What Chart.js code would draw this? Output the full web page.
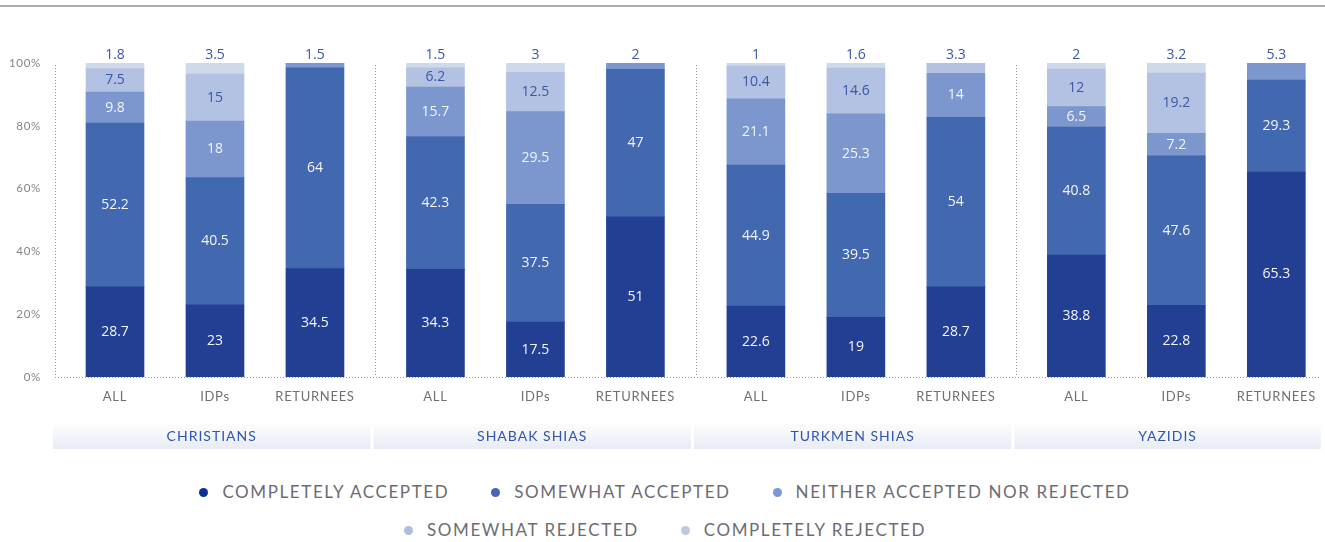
<!DOCTYPE html>
<html>
<head>
<meta charset="utf-8">
<script src="https://cdn.jsdelivr.net/npm/chart.js@4.4.1/dist/chart.umd.min.js"></script>
<style>
  html, body { margin: 0; padding: 0; background: #fff; }
  body { width: 1325px; height: 542px; position: relative; overflow: hidden; font-family: Lato, "Open Sans", sans-serif; }
  #topline { position: absolute; left: 0; top: 5px; width: 1325px; height: 2px; background: #ababb0; }
  #wrap { position: absolute; left: 0; top: 0; width: 1325px; height: 460px; }
  .legend-row { position: absolute; left: 0; width: 1330px; display: flex; justify-content: center; height: 22px; line-height: 22px; }
  .legend-item { display: flex; align-items: center; margin: 0 21px; font-size: 17px; color: #6c6c72; letter-spacing: 1.6px; }
  .legend-dot { width: 9px; height: 9px; border-radius: 50%; margin-right: 14px; }
</style>
</head>
<body>
<div id="topline"></div>
<div id="wrap"><canvas id="chart"></canvas></div>
<div class="legend-row" id="legend1" style="top:481px"></div>
<div class="legend-row" id="legend2" style="top:519px"></div>
<script>
// data
const groups = ['CHRISTIANS', 'SHABAK SHIAS', 'TURKMEN SHIAS', 'YAZIDIS'];
const subgroups = ['ALL', 'IDPs', 'RETURNEES'];
const seriesNames = ['COMPLETELY ACCEPTED', 'SOMEWHAT ACCEPTED', 'NEITHER ACCEPTED NOR REJECTED', 'SOMEWHAT REJECTED', 'COMPLETELY REJECTED'];
const completelyAccepted = [28.7, 23, 34.5, 34.3, 17.5, 51, 22.6, 19, 28.7, 38.8, 22.8, 65.3];
const somewhatAccepted = [52.2, 40.5, 64, 42.3, 37.5, 47, 44.9, 39.5, 54, 40.8, 47.6, 29.3];
const neither = [9.8, 18, 1.5, 15.7, 29.5, 2, 21.1, 25.3, 14, 6.5, 7.2, 5.3];
const somewhatRejected = [7.5, 15, 0, 6.2, 12.5, 0, 10.4, 14.6, 3.3, 12, 19.2, 0];
const completelyRejected = [1.8, 3.5, 0, 1.5, 3, 0, 1, 1.6, 0, 2, 3.2, 0];
const yTicks = [0, 20, 40, 60, 80, 100];

const seriesValues = [completelyAccepted, somewhatAccepted, neither, somewhatRejected, completelyRejected];
const seriesColors = ['#223f94', '#4268b0', '#7b97cd', '#b3c2e2', '#cfd9ea'];
const dotColors = ['#0d2f98', '#4466b5', '#7a98d3', '#abbee0', '#bccadf'];
const labelColors = ['#f4f4f8', '#f4f4f8', '#f4f4f8', '#3a56a8', '#3a56a8'];

// bar positions on a linear x scale: 3 bars per group, a little gap between groups
const groupWidth = 3.205;
const barOffset = 0.6;
const xPos = [];
groups.forEach((g, gi) => subgroups.forEach((s, si) => xPos.push(gi * groupWidth + barOffset + si)));

// legend (html)
function legendItem(k) {
    return '<div class="legend-item"><span class="legend-dot" style="background:' + dotColors[k] + '"></span>' + seriesNames[k] + '</div>';
}
document.getElementById('legend1').innerHTML = [0, 1, 2].map(legendItem).join('');
document.getElementById('legend2').innerHTML = [3, 4].map(legendItem).join('');

const frame = {
    id: 'frame',
    beforeDraw(chart) {
        chart.ctx.letterSpacing = '0.7px';
    },
    beforeDatasetsDraw(chart) {
        const ctx = chart.ctx;
        const area = chart.chartArea;
        const xs = chart.scales.x;
        ctx.save();
        ctx.strokeStyle = '#9a9a9a';
        ctx.lineWidth = 1;
        ctx.setLineDash([1, 2]);
        ctx.beginPath();
        ctx.moveTo(area.left, area.bottom + 0.5);
        ctx.lineTo(area.right, area.bottom + 0.5);
        for (let g = 0; g < groups.length; g++) {
            const px = Math.round(xs.getPixelForValue(g * groupWidth)) + 0.5;
            ctx.moveTo(px, area.top + 2);
            ctx.lineTo(px, area.bottom);
        }
        ctx.stroke();
        ctx.restore();
    },
    afterDraw(chart) {
        const ctx = chart.ctx;
        const area = chart.chartArea;
        const xs = chart.scales.x;
        const top = 424, bottom = 449;
        ctx.save();
        groups.forEach((name, g) => {
            const x0 = xs.getPixelForValue(g * groupWidth) - 2;
            const x1 = g < groups.length - 1 ? xs.getPixelForValue((g + 1) * groupWidth) - 5 : area.right + 1;
            const grad = ctx.createLinearGradient(0, top, 0, bottom);
            grad.addColorStop(0, '#fdfdfe');
            grad.addColorStop(1, '#e8ebf5');
            ctx.fillStyle = grad;
            ctx.fillRect(x0, top, x1 - x0, bottom - top);
            ctx.fillStyle = '#2f55ae';
            ctx.font = '14px Lato';
            ctx.letterSpacing = '1px';
            ctx.textAlign = 'center';
            ctx.textBaseline = 'middle';
            ctx.fillText(name, (x0 + x1) / 2, (top + bottom) / 2);
        });
        ctx.restore();
    }
};

const valueLabels = {
    id: 'valueLabels',
    afterDatasetsDraw(chart) {
        const ctx = chart.ctx;
        ctx.save();
        ctx.font = '14px "Open Sans"';
        ctx.letterSpacing = '0px';
        ctx.textAlign = 'center';
        ctx.textBaseline = 'middle';
        xPos.forEach((x, i) => {
            let topK = -1;
            seriesValues.forEach((vals, k) => { if (vals[i] > 0) topK = k; });
            seriesValues.forEach((vals, k) => {
                const v = vals[i];
                if (!v) return;
                const bar = chart.getDatasetMeta(k).data[i];
                if (k === topK) {
                    ctx.fillStyle = '#3a56a8';
                    ctx.fillText(String(v), bar.x, chart.chartArea.top - 8);
                } else {
                    ctx.fillStyle = labelColors[k];
                    ctx.fillText(String(v), bar.x, (bar.y + bar.base) / 2);
                }
            });
        });
        ctx.restore();
    }
};

new Chart(document.getElementById('chart'), {
    type: 'bar',
    data: {
        datasets: seriesValues.map((vals, k) => ({
            label: seriesNames[k],
            data: vals.map((v, i) => ({x: xPos[i], y: v})),
            backgroundColor: seriesColors[k],
            borderWidth: 0,
            barThickness: 58,
        })),
    },
    options: {
        responsive: true,
        maintainAspectRatio: false,
        animation: false,
        layout: {padding: {top: 63, right: 5, left: 0, bottom: 0}},
        plugins: {legend: {display: false}, tooltip: {enabled: false}},
        scales: {
            x: {
                type: 'linear',
                stacked: true,
                offset: false,
                min: 0,
                max: 12.65,
                grid: {display: false, drawTicks: false, offset: false},
                border: {display: false},
                afterBuildTicks: (scale) => { scale.ticks = xPos.map(v => ({value: v})); },
                afterFit: (scale) => { scale.height = 83; },
                ticks: {
                    autoSkip: false,
                    maxRotation: 0,
                    padding: 12,
                    color: '#707070',
                    font: {family: 'Lato', size: 13},
                    callback: (v, i) => subgroups[i % subgroups.length],
                },
            },
            y: {
                stacked: true,
                min: 0,
                max: 100,
                grid: {display: false, drawTicks: false},
                border: {display: false},
                afterBuildTicks: (scale) => { scale.ticks = yTicks.map(v => ({value: v})); },
                afterFit: (scale) => { scale.width = 55; },
                ticks: {
                    padding: 14,
                    color: '#858585',
                    font: {family: 'Lato', size: 11.5},
                    callback: (v) => v + '%',
                },
            },
        },
    },
    plugins: [frame, valueLabels],
});
</script>
</body>
</html>
